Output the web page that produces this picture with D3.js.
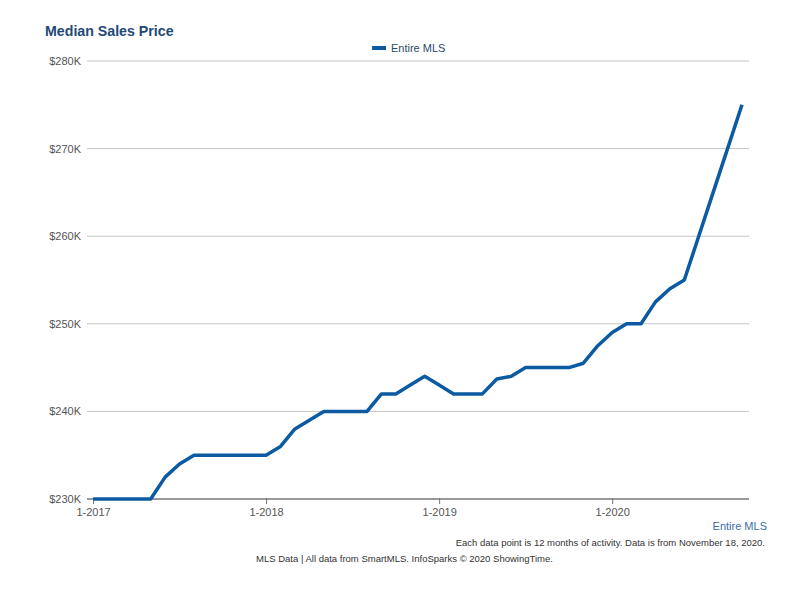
<!DOCTYPE html>
<html><head><meta charset="utf-8">
<script src="https://cdn.jsdelivr.net/npm/d3@7"></script>
<style>body{margin:0;background:#fff;}svg{display:block;font-family:"Liberation Sans",Arial,sans-serif;}</style>
</head><body>
<script>
const months = d3.range(0, 46);
const values = [230,230,230,230,230,232.5,234,235,235,235,235,235,235,236,238,239,240,240,240,240,242,242,243,244,243,242,242,242,243.7,244,245,245,245,245,245.5,247.5,249,250,250,252.5,254,255,260,265,270,275];
const yTicks = [230,240,250,260,270,280];
const xTickIdx = [0,12,24,36];
const xTickLabels = ["1-2017","1-2018","1-2019","1-2020"];
const seriesName = "Entire MLS";

const W = 800, H = 600;
const svg = d3.select("body").append("svg").attr("width", W).attr("height", H);
const x = d3.scaleLinear().domain([0,45]).range([93,742]);
const y = d3.scaleLinear().domain([230,280]).range([499,61]);

svg.append("text").attr("x",45).attr("y",36).attr("font-size",14.2).attr("font-weight","bold").attr("fill","#1f4a78").text("Median Sales Price");

// gridlines
svg.append("g").selectAll("line").data(yTicks.slice(1)).join("line")
  .attr("x1",87).attr("x2",749).attr("y1",d=>y(d)).attr("y2",d=>y(d))
  .attr("stroke","#c4c4c4").attr("stroke-width",1);
svg.append("g").selectAll("text").data(yTicks).join("text")
  .attr("x",81).attr("y",d=>y(d)+4).attr("text-anchor","end").attr("font-size",11).attr("fill","#555")
  .text(d=>"$"+d+"K");

// x axis
const xAxis = d3.axisBottom(x).tickValues(xTickIdx).tickFormat((d,i)=>xTickLabels[i]).tickSize(5).tickPadding(4);
const gx = svg.append("g").attr("transform","translate(0,499)").call(xAxis);
gx.select(".domain").remove();
gx.append("line").attr("x1",87).attr("x2",749).attr("y1",0).attr("y2",0).attr("stroke","#777").attr("stroke-width",1.5);
gx.selectAll(".tick line").attr("stroke","#777").attr("y1",-1);
gx.selectAll(".tick text").attr("font-size",11).attr("fill","#555").attr("font-family","Liberation Sans, Arial, sans-serif");

// line
const line = d3.line().x((d,i)=>x(months[i])).y(d=>y(d));
svg.append("path").datum(values).attr("d",line).attr("fill","none").attr("stroke","#0b5aa2").attr("stroke-width",3.5).attr("stroke-linejoin","round");

// legend
svg.append("line").attr("x1",372).attr("x2",386).attr("y1",48).attr("y2",48).attr("stroke","#0b5aa2").attr("stroke-width",4);
svg.append("text").attr("x",391).attr("y",52).attr("font-size",11).attr("fill","#2b4a6b").text(seriesName);

svg.append("text").attr("x",767).attr("y",530).attr("text-anchor","end").attr("font-size",11).attr("fill","#3c6ea8").text(seriesName);
svg.append("text").attr("x",765).attr("y",546).attr("text-anchor","end").attr("font-size",9.5).attr("fill","#333").text("Each data point is 12 months of activity. Data is from November 18, 2020.");
svg.append("text").attr("x",256).attr("y",562).attr("font-size",9.5).attr("fill","#333").text("MLS Data | All data from SmartMLS. InfoSparks © 2020 ShowingTime.");
</script>
</body></html>
